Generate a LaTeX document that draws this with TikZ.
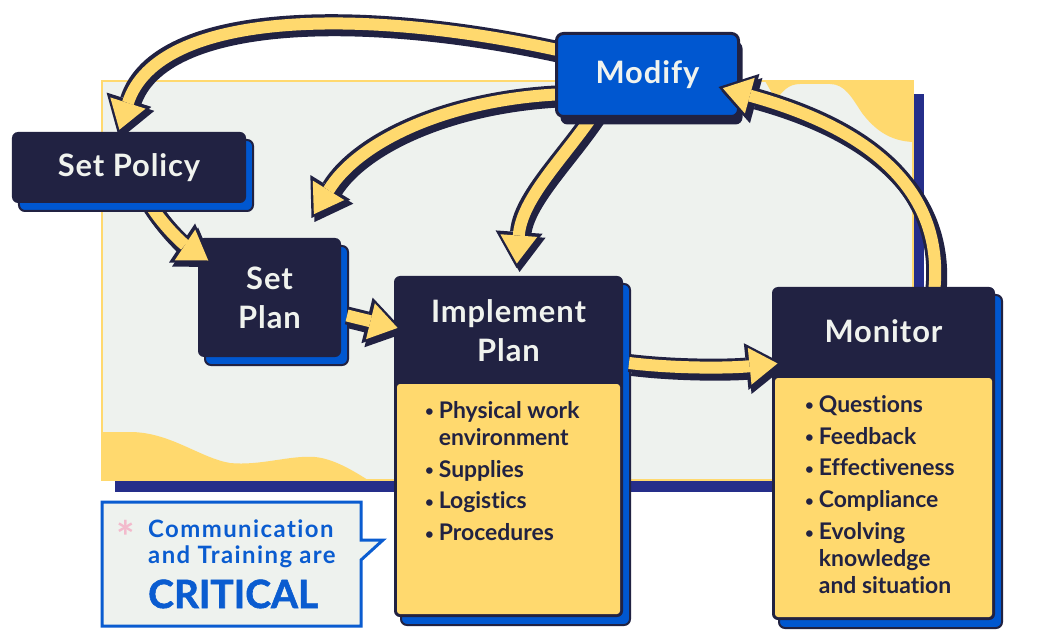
\documentclass[tikz,border=0pt]{standalone}
\usepackage{fontspec}
\setmainfont{Lato}[Ligatures=NoCommon]
\usetikzlibrary{arrows.meta,shadows}
\definecolor{navy}{RGB}{33,34,66}
\definecolor{gold}{RGB}{255,217,110}
\definecolor{royal}{RGB}{0,87,208}
\definecolor{panel}{RGB}{238,242,238}
\definecolor{panelshade}{RGB}{37,46,138}
\definecolor{paper}{RGB}{240,243,238}
\definecolor{callblue}{RGB}{10,92,208}
\definecolor{blush}{RGB}{243,186,204}
\pgfdeclarelayer{panel}
\pgfdeclarelayer{low}
\pgfdeclarelayer{mid}
\pgfdeclarelayer{high}
\pgfdeclarelayer{top}
\pgfsetlayers{panel,low,mid,high,top,main}
\tikzset{
  title/.style={font=\fontsize{31}{39}\selectfont\bfseries\addfontfeatures{LetterSpace=3}, text=paper, align=center},
  darkbox/.style={title, fill=navy, rounded corners=6bp, outer sep=0pt,
    general shadow={fill=royal, draw=navy, line width=2bp, shadow xshift=7bp, shadow yshift=-8bp}},
  bluebox/.style={title, fill=royal, draw=navy, line width=3bp, rounded corners=7bp, outer sep=0pt,
    general shadow={fill=navy, shadow xshift=4bp, shadow yshift=-8bp}},
  listbox/.style={font=\fontsize{23}{27}\selectfont\bfseries, text=navy, align=left, inner sep=0pt},
  calltext/.style={font=\fontsize{24}{26}\selectfont\bfseries\addfontfeatures{LetterSpace=6}, text=callblue, inner sep=0pt},
  bandshadow/.style={navy, line width=18bp, transform canvas={xshift=3bp,yshift=-4bp},
    -{Triangle[length=36bp,width=47bp,line width=0pt]}},
  bandline/.style={navy, line width=18bp, -{Triangle[length=36bp,width=47bp,line width=0pt]}},
  bandfill/.style={gold, line width=12bp, shorten >=4.5bp, -{Triangle[length=28bp,width=37bp,line width=0pt]}},
}
\newcommand\bandarrow[1]{%
  \draw[bandshadow] #1;
  \draw[bandline] #1;
  \draw[bandfill] #1;}
\newcommand\dotitem{{\fontsize{15}{15}\selectfont\raisebox{1.5bp}{\textbullet}}\hspace{5bp}}
\newcommand\dotgap{\hphantom{\dotitem}}
\begin{document}
\begin{tikzpicture}[x=1bp,y=-1bp]
\useasboundingbox (0,0) rectangle (1040,640);
%% panel behind the cycle
\begin{pgfonlayer}{panel}
  \fill[white] (0,0) rectangle (1040,640);
  \fill[panelshade] (115,94) rectangle (924,492);
  \fill[panel] (102,81) rectangle (913,480);
  \fill[gold] (102,432) -- (130,432) .. controls (170,432) and (200,458) .. (230,463)
    .. controls (260,466) and (290,455) .. (315,457) .. controls (335,459) and (355,472) .. (368,480) -- (102,480) -- cycle;
  \fill[gold] (765,81) -- (913,81) -- (913,142) .. controls (890,141) and (875,130) .. (862,113)
    .. controls (852,98) and (845,84) .. (830,84) -- (800,84) .. controls (788,84) and (782,92) .. (776,100) -- cycle;
  \draw[gold, line width=2bp] (102,81) rectangle (913,480);
\end{pgfonlayer}
%% boxes
\begin{pgfonlayer}{high}
  \node[bluebox, minimum width=182bp, minimum height=83bp] (modify) at (647.5,75) {Modify};
\end{pgfonlayer}
\begin{pgfonlayer}{mid}
  \node[darkbox, minimum width=234bp, minimum height=71bp] (policy) at (129,167.5) {Set Policy};
\end{pgfonlayer}
\begin{pgfonlayer}{low}
  \node[darkbox, minimum width=143bp, minimum height=119bp] (setplan) at (269.5,297.5) {Set\\Plan};
  \node[darkbox, minimum width=229bp, minimum height=341bp] (impl) at (508.5,446.5) {};
  \fill[gold, rounded corners=3bp] ([xshift=3bp,yshift=-108bp]impl.north west) rectangle ([xshift=-3bp,yshift=3bp]impl.south east);
  \node[title] (impltitle) at (508.5,331) {Implement\\Plan};
  \node[listbox, anchor=north west] (impllist) at (425,401) {\dotitem Physical work\\
    \dotgap environment\\[5bp]
    \dotitem Supplies\\[5bp]
    \dotitem Logistics\\[5bp]
    \dotitem Procedures};
\end{pgfonlayer}
\node[darkbox, minimum width=223bp, minimum height=333bp] (monitor) at (883.5,453.5) {};
\fill[gold, rounded corners=3bp] ([xshift=3bp,yshift=-91bp]monitor.north west) rectangle ([xshift=-3bp,yshift=3bp]monitor.south east);
\node[title] (monitortitle) at (883.5,331) {Monitor};
\node[listbox, anchor=north west] (monitorlist) at (805,395) {\dotitem Questions\\[5bp]
  \dotitem Feedback\\[5bp]
  \dotitem Effectiveness\\[5bp]
  \dotitem Compliance\\[5bp]
  \dotitem Evolving\\
  \dotgap knowledge\\
  \dotgap and situation};
%% arrows
\begin{pgfonlayer}{low}
  \bandarrow{([xshift=16bp,yshift=8bp]policy.south) .. controls +(12,25) and +(-30,-20) .. ([xshift=14bp,yshift=-25bp]setplan.north west)}
  \bandarrow{([xshift=6bp,yshift=-18bp]setplan.east) -- ([xshift=8bp,yshift=-53bp]impl.north west)}
\end{pgfonlayer}
\begin{pgfonlayer}{mid}
  \bandarrow{([xshift=10bp,yshift=23bp]modify.west) .. controls +(-200,-45) and +(40,-125) .. ([xshift=-11bp,yshift=-2bp]policy.north)}
  \bandarrow{([xshift=10bp,yshift=-19bp]modify.west) .. controls +(-115,4) and +(48,-78) .. ([xshift=42bp,yshift=20bp]setplan.north)}
  \bandarrow{([xshift=-52bp,yshift=5bp]modify.south) .. controls +(-30,45) and +(5,-70) .. ([xshift=8bp,yshift=8bp]impl.north)}
\end{pgfonlayer}
\begin{pgfonlayer}{top}
  \bandarrow{([xshift=50bp,yshift=-10bp]monitor.north) .. controls +(15,-110) and +(145,40) .. ([xshift=-20bp,yshift=-12bp]modify.east)}
\end{pgfonlayer}
\bandarrow{([xshift=6bp,yshift=-87bp]impl.north east) .. controls +(50,6) and +(-50,5) .. ([xshift=10bp,yshift=-76bp]monitor.north west)}
%% callout
\draw[callblue, line width=3bp, fill=panel] (102,502) -- (361,502) -- (361,540) -- (383,540) -- (361,560) -- (361,626) -- (102,626) -- cycle;
\node[font=\fontsize{44}{44}\selectfont\bfseries, text=blush, inner sep=0pt, anchor=base] (callstar) at (126,553) {*};
\node[calltext, align=left, anchor=base west] (callcomm) at (148,563) {Communication\\and Training are};
\node[calltext, anchor=base west, font=\fontsize{39}{39}\selectfont\bfseries\addfontfeatures{FakeBold=1.5}] (callcrit) at (148,608) {CRITICAL};
\end{tikzpicture}
\end{document}
